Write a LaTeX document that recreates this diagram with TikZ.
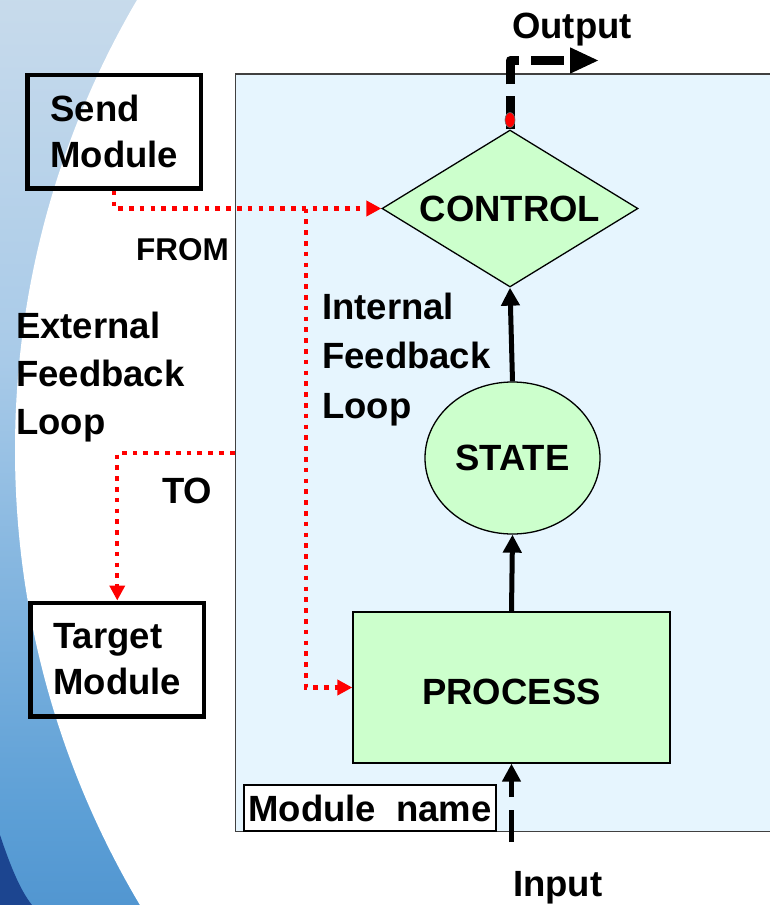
\documentclass[tikz,border=0pt]{standalone}
\usepackage{fontspec}
\setmainfont{Liberation Sans}
\usetikzlibrary{arrows.meta,shapes.geometric}

\definecolor{modfill}{HTML}{E6F5FE}
\definecolor{boxgreen}{HTML}{CCFFCC}
\definecolor{swA}{HTML}{1C4590}
\definecolor{swB}{HTML}{2F78BF}
\definecolor{swC}{HTML}{5C9FD6}
\definecolor{swD}{HTML}{A8CAE8}
\definecolor{swE}{HTML}{CCDDEC}
\definecolor{swF}{HTML}{E0E7EF}

% vertical colour ramp of the left-hand backdrop
\pgfdeclareverticalshading{swoosh}{100bp}{color(0bp)=(swA); color(8bp)=(swB); color(30bp)=(swC); color(55bp)=(swD); color(78bp)=(swE); color(100bp)=(swF)}

\begin{document}
\begin{tikzpicture}[x=1pt,y=-1pt,
  bigfont/.style={font=\bfseries\fontsize{36.5}{48}\selectfont},
  lbl/.style={bigfont, inner sep=0},
  modulebox/.style={draw=black, line width=4.5pt, minimum width=173.5, minimum height=113.5,
                    inner sep=0, align=left, font=\bfseries\fontsize{36.5}{46}\selectfont},
  greenshape/.style={draw=black, line width=1.3pt, fill=boxgreen, inner sep=0, bigfont},
  blkarrow/.style={line width=5pt, -{Triangle[length=18pt,width=18pt]}},
  reddots/.style={red, line width=4.3pt, dash pattern=on 4.7pt off 6.1pt,
                  -{Triangle[length=15pt,width=15pt]}}
]
\useasboundingbox (0,0) rectangle (769,905);

% backdrop: blue swoosh on the left, white disc over the rest
\shade[shading=swoosh] (0,0) rectangle (769,905);
\fill[swA] (0,835) .. controls (10,865) and (20,890) .. (32,905) -- (0,905) -- cycle;
\fill[white] (905,450) circle[radius=890];

% the module frame
\node[draw=black!75, line width=1.5pt, fill=modfill, minimum width=580, minimum height=757.5,
      inner sep=0, anchor=north west] (module) at (234.5,73) {};
\node[draw=black, line width=2pt, fill=white, minimum width=252, minimum height=46, inner sep=0,
      bigfont] (modname) at (370,808) {Module~ name};

% outer modules
\node[modulebox] (send) at (114.25,131.75) {Send\\Module};
\node[modulebox] (target) at (117.25,659.5) {Target\\Module};

% inner blocks
\node[greenshape, diamond, aspect=1.63, minimum width=256, minimum height=157] (control) at (510,208.5) {CONTROL};
\node[greenshape, ellipse, minimum width=175, minimum height=152] (state) at (512.5,458) {STATE};
\node[greenshape, rectangle, minimum width=317, minimum height=151,
      text height=34pt, text depth=0pt] (process) at (511.5,687.5) {PROCESS};

% free labels
\node[lbl, anchor=base west, font=\bfseries\fontsize{31.5}{38}\selectfont] (from) at (136,260) {FROM};
\node[lbl, anchor=base west] (to) at (162,503) {TO};
\node[lbl, anchor=north west, align=left, font=\bfseries\fontsize{36.5}{48}\selectfont]
     (ext) at (16,312) {External\\Feedback\\Loop};
\node[lbl, anchor=north west, align=left, font=\bfseries\fontsize{36.5}{49.5}\selectfont]
     (int) at (322,292.5) {Internal\\Feedback\\Loop};
\node[lbl, anchor=base west] (outlbl) at (512,38) {Output};
\node[lbl, anchor=base west] (inlbl) at (513,896) {Input};

% signal flow inside the module
\draw[blkarrow] (process.north) -- (state.south);
\draw[blkarrow] (state.north) -- (control.south);

\coordinate (inbottom) at (511.5,842);
\draw[blkarrow, dash pattern=on 32pt off 13pt] (inbottom) -- (process.south);

\coordinate (outend) at (599,60.5);
\draw[line width=9pt, line join=round, dash pattern=on 33pt off 12pt,
      -{Triangle[length=29pt,width=24pt]}] (control.north) |- (outend);
\node[ellipse, fill=red, draw=black!60, line width=0.6pt, minimum width=10, minimum height=15,
      inner sep=0] (flag) at (510,120) {};

% feedback loops
\coordinate (junction) at (306,208.5);
\coordinate (tostart) at (234.5,453);
\draw[reddots] (send.south) |- (control.west);
\draw[reddots] (junction) |- (process.west);
\draw[reddots] (tostart) -| (target.north);
\end{tikzpicture}
\end{document}
